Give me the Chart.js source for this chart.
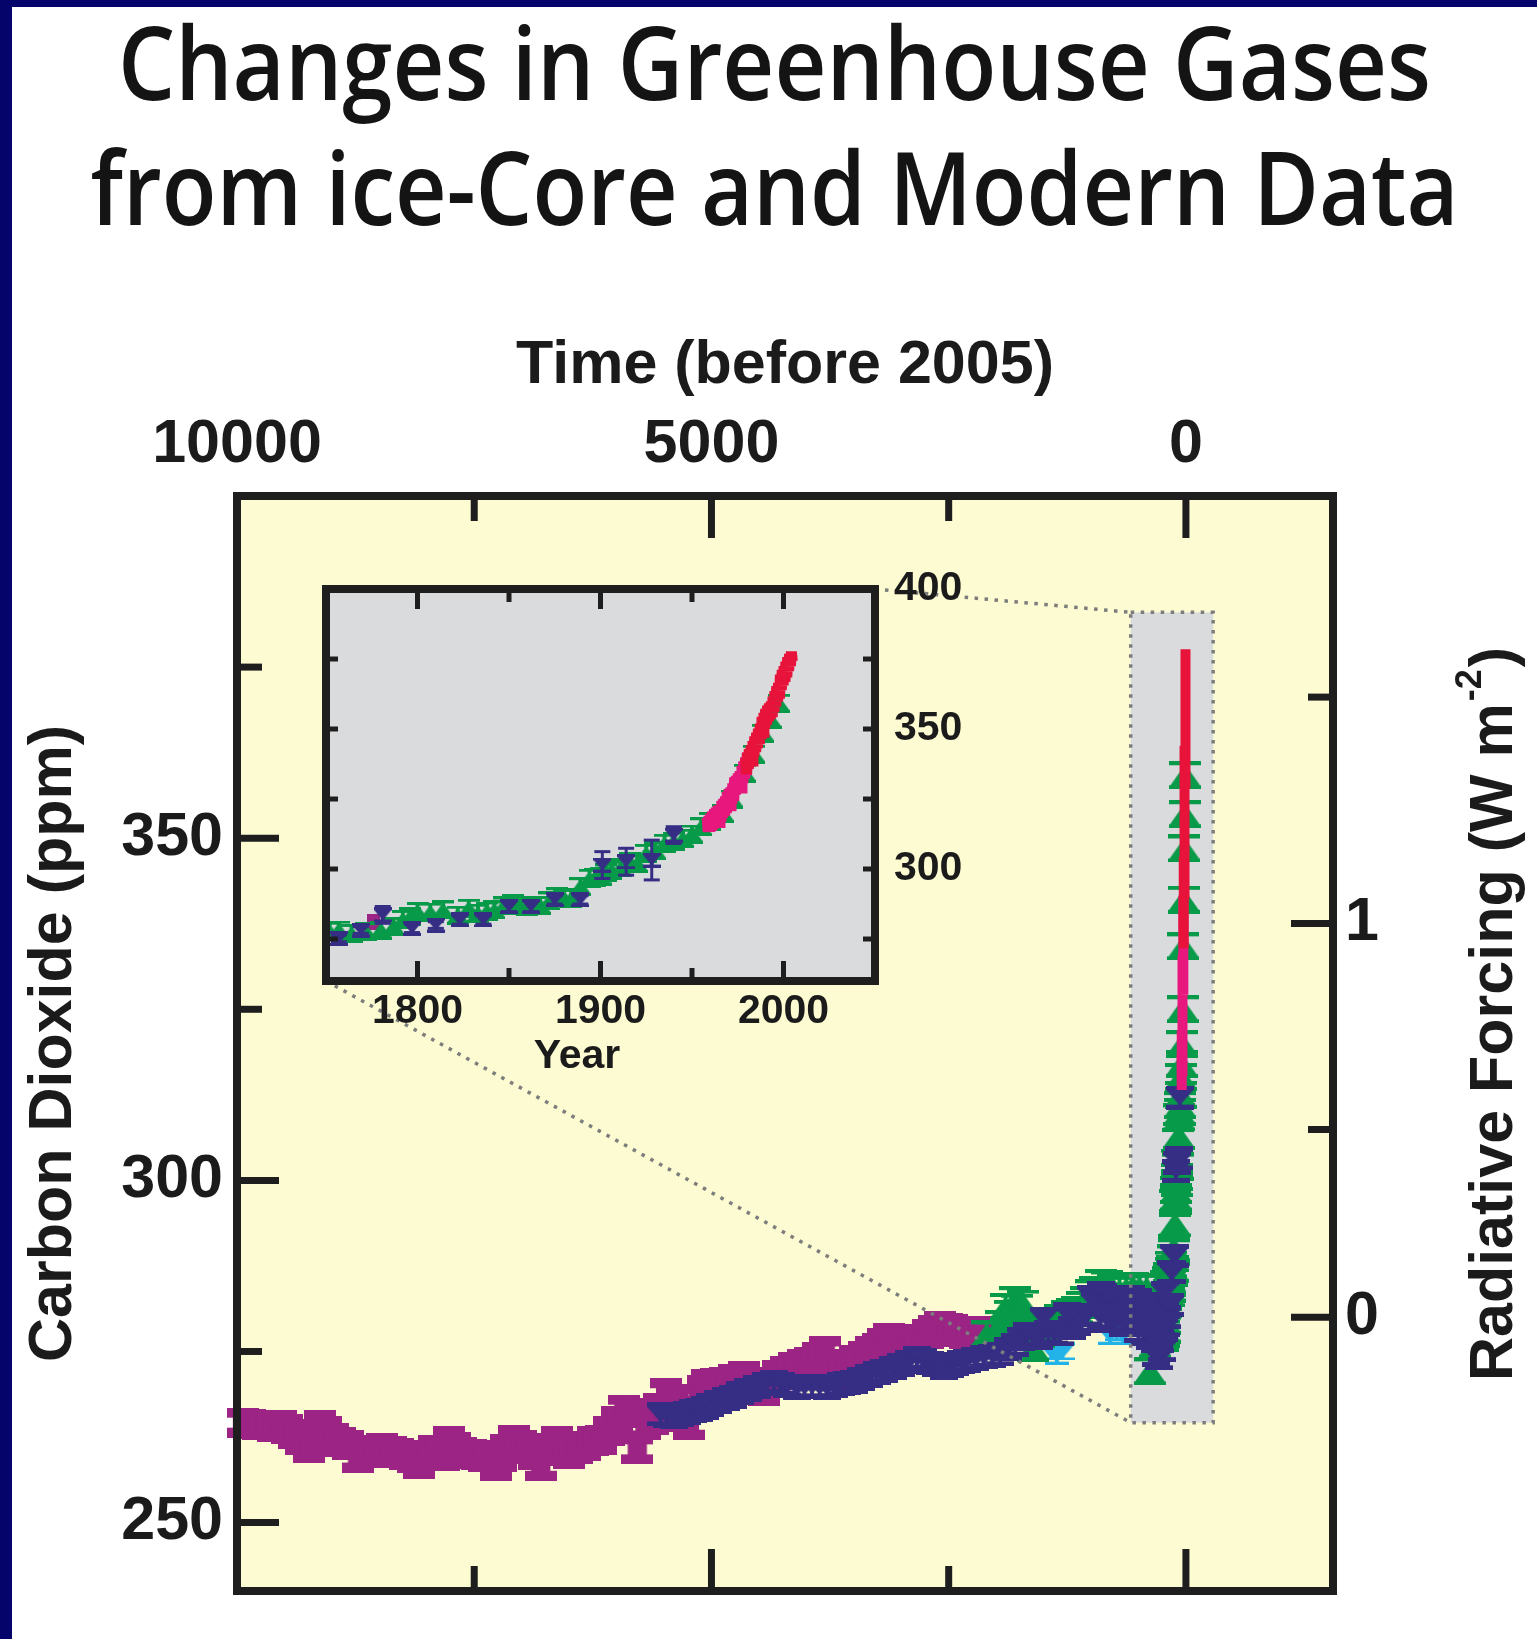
<!DOCTYPE html>
<html><head><meta charset="utf-8">
<script src="https://cdn.jsdelivr.net/npm/chart.js"></script>
<style>
html,body{margin:0;padding:0;background:#fff;}
#page{position:relative;width:1537px;height:1639px;overflow:hidden;background:#fff;}
#frameTop{position:absolute;left:0;top:0;width:1537px;height:7px;background:#04046b;z-index:5}
#frameLeft{position:absolute;left:0;top:0;width:12px;height:1639px;background:#04046b;z-index:5}
.tl{position:absolute;left:-238px;width:2025px;text-align:center;font-family:'Open Sans','Noto Sans',sans-serif;font-weight:600;font-size:102px;line-height:102px;color:#141414;z-index:4;white-space:nowrap}
.tl span{display:inline-block;transform-origin:50% 50%}
#main{position:absolute;left:0;top:0;z-index:1}
#inset{position:absolute;left:296px;top:560px;z-index:2}
</style></head>
<body><div id="page">
<div id="frameTop"></div><div id="frameLeft"></div>
<div class="tl" id="t1" style="top:10px"><span>Changes in Greenhouse Gases</span></div>
<div class="tl" id="t2" style="top:135px"><span>from ice-Core and Modern Data</span></div>
<canvas id="main" width="1537" height="1639"></canvas>
<canvas id="inset" width="720" height="540"></canvas>
</div>
<script>
// ---------------- data ----------------
const X_TICKS = [10000, 7500, 5000, 2500, 0];
const X_LABELS = ['10000', '', '5000', '', '0'];
const Y_TICKS = [250, 275, 300, 325, 350, 375];
const Y_LABELS = ['250', '', '300', '', '350', ''];
const RF_TICKS = [0, 0.5, 1, 1.5];          // W m-2
const RF_LABELS = ['0', '', '1', ''];
const INSET_X_TICKS = [1800, 1850, 1900, 1950, 2000];
const INSET_X_LABELS = ['1800', '', '1900', '', '2000'];
const INSET_Y_TICKS = [275, 300, 325, 350, 375, 400];
const INSET_Y_LABELS = ['', '300', '', '350', '', '400'];

// ice-core records, [years before 2005, ppm]
const MAGENTA_BP = [[9940,264.6],[9860,264.4],[9780,264.2],[9700,264.3],[9620,264.0],[9540,264.2],[9470,263.6],[9400,263.0],[9330,262.0],[9239,260.9],[9123,264.3],[9060,263.4],[8990,262.4],[8910,261.8],[8835,261.4],[8730,259.5],[8640,260.6],[8560,260.2],[8470,260.9],[8379,260.4],[8300,260.2],[8230,259.8],[8150,259.4],[8081,258.5],[8000,259.8],[7920,260.6],[7818,259.7],[7765,261.9],[7700,261.0],[7640,260.3],[7537,260.0],[7470,259.9],[7400,259.6],[7274,258.3],[7220,259.6],[7160,260.8],[7081,262.1],[7010,261.3],[6950,260.9],[6870,259.8],[6800,258.3],[6700,260.5],[6624,261.9],[6560,261.0],[6502,260.0],[6420,260.8],[6330,261.2],[6250,261.9],[6168,262.1],[6081,263.4],[6000,264.8],[5923,266.5],[5853,266.0],[5782,260.7],[5700,264.2],[5620,265.0],[5550,266.8],[5477,268.9],[5420,267.4],[5360,266.2],[5300,265.4],[5239,264.3],[5140,268.0],[5090,269.3],[5046,270.2],[4950,270.4],[4860,270.6],[4760,271.0],[4660,271.4],[4560,270.3],[4449,269.2],[4370,270.6],[4300,271.5],[4210,272.2],[4133,272.8],[4040,273.1],[3960,273.4],[3880,274.2],[3800,275.0],[3747,271.6],[3660,272.6],[3580,273.2],[3490,273.8],[3396,274.3],[3320,275.0],[3250,275.5],[3190,276.3],[3126,277.0],[3060,276.7],[2990,276.5],[2930,276.2],[2870,276.0],[2790,276.8],[2720,277.6],[2650,278.2],[2589,278.7],[2520,278.5],[2460,278.3],[2390,277.9],[2326,277.5],[2256,277.7],[2190,277.9],[2137,278.0]];
const NAVY_BP = [[5537,265.8],[5470,265.6],[5400,265.4],[5330,265.7],[5256,266.0],[5190,266.3],[5130,266.5],[5070,266.8],[5011,267.2],[4930,267.6],[4850,268.0],[4770,268.4],[4695,268.9],[4610,269.3],[4520,269.8],[4430,270.2],[4344,270.6],[4270,270.3],[4200,270.0],[4098,269.7],[4020,269.8],[3940,269.9],[3860,269.8],[3782,269.7],[3710,269.9],[3640,270.2],[3570,270.4],[3502,270.6],[3420,271.0],[3340,271.4],[3260,271.8],[3186,272.1],[3090,272.6],[3000,273.0],[2920,273.5],[2835,274.1],[2770,273.7],[2700,273.3],[2630,273.0],[2554,272.6],[2490,272.9],[2430,273.2],[2370,273.4],[2309,273.6],[2220,273.9],[2130,274.2],[2040,274.4],[1958,274.6],[1880,275.3],[1800,276.0],[1740,276.8],[1677,277.5],[1610,277.2],[1550,277.0],[1500,279.8],[1450,277.8],[1390,277.6],[1326,277.5],[1250,280.5],[1200,278.5],[1150,279.0],[1100,279.5],[1045,280.4],[1000,283.0],[960,282.0],[900,283.5],[900,280.0],[870,283.3],[820,283.0],[820,279.5],[780,283.0],[740,283.0],[740,279.5],[700,282.0],[660,282.5],[660,278.8],[624,282.8],[580,283.0],[580,279.0],[540,281.5],[500,282.5],[500,278.0],[470,280.5],[430,282.0],[430,277.5],[414,280.4],[380,282.0],[380,277.0],[350,279.0],[330,281.0],[330,276.5],[320,274.5],[300,277.5],[290,280.0],[280,274.0],[274,276.5],[260,279.0]];
const GREEN_BP = [[2100,277.5],[2028,277.5],[1950,279.0],[1900,281.5],[1850,280.5],[1800,282.5],[1782,281.4],[1760,279.0],[1720,282.0],[1680,279.5],[1640,278.0],[1607,275.5],[1550,277.5],[1500,278.5],[1450,279.0],[1400,279.5],[1326,279.9],[1250,280.5],[1200,280.8],[1150,281.0],[1100,281.8],[1050,282.5],[1000,283.5],[960,284.0],[900,285.0],[835,284.8],[770,284.3],[700,284.0],[630,284.2],[560,284.5],[490,284.4],[414,284.3],[379,272.1],[330,276.0],[300,281.0]];
const CYAN_BP = [[1420,275.0],[1361,274.4],[1300,275.0],[800,277.3],[730,277.8],[660,277.3]];

// inset records, [calendar year, ppm]
const INSET_NAVY = [[1757,275.2],[1769,278.2],[1781,283.6],[1797,278.8],[1810,280.0],[1823,281.8],[1836,281.8],[1850,286.6],[1862,286.6],[1875,289.0],[1889,289.0],[1901,301.4],[1914,302.6],[1928,303.2],[1940,312.1]];
const INSET_NAVY_ERR = [1.2,1.2,3.0,1.5,1.2,1.5,1.5,1.8,1.8,1.5,1.5,4.8,4.8,7.1,3.0];
const INSET_GREEN = [[1752,277.8],[1757,278.2],[1764,277.0],[1772,277.6],[1780,278.2],[1787,279.5],[1792,282.0],[1796,283.0],[1800,284.8],[1807,284.6],[1814,285.4],[1822,283.5],[1828,286.0],[1833,284.2],[1838,285.0],[1842,285.4],[1847,286.8],[1852,287.7],[1856,287.0],[1860,286.5],[1864,287.0],[1867,287.1],[1872,288.6],[1876,290.1],[1880,289.8],[1884,289.5],[1889,293.7],[1894,296.7],[1897,297.0],[1900,297.5],[1903,298.6],[1906,299.6],[1911,300.5],[1916,302.6],[1920,302.0],[1925,305.6],[1930,306.5],[1935,309.2],[1940,310.0],[1945,311.0],[1950,312.5],[1955,315.1],[1960,317.0],[1967,319.9],[1972,325.0],[1979,334.2],[1984,341.0],[1989,348.5],[1993,353.5],[1997.5,359.2]];
const INSET_MAGENTA = [[1776,281.2]];

// modern atmospheric records (seasonal high / low), [calendar year, ppm]
const PINK_SERIES = [[1958.3,318.3],[1958.8,313.3],[1959.3,318.9],[1959.8,313.2],[1960.3,319.8],[1960.8,313.8],[1961.3,320.5],[1961.8,314.6],[1962.3,321.3],[1962.8,315.5],[1963.3,321.9],[1963.8,316.0],[1964.3,322.5],[1964.8,316.6],[1965.3,322.9],[1965.8,317.0],[1966.3,324.3],[1966.8,318.3],[1967.3,325.0],[1967.8,319.1],[1968.3,325.9],[1968.8,320.0],[1969.3,327.5],[1969.8,321.5],[1970.3,328.6],[1970.8,322.6],[1971.3,329.2],[1971.8,323.3],[1972.3,330.5],[1972.8,324.4],[1973.3,332.7],[1973.8,326.6],[1974.3,333.2],[1974.8,327.1],[1975.3,334.1],[1975.8,328.0],[1976.3,334.9],[1976.8,328.9],[1977.3,336.8],[1977.8,330.7],[1978.3,338.4],[1978.8,332.3],[1979.3,339.8],[1979.8,333.6],[1980.3,341.6],[1980.8,335.6]];
const RED_SERIES = [[1979.3,339.5],[1979.8,333.9],[1980.3,341.3],[1980.8,335.9],[1981.3,342.8],[1981.8,337.3],[1982.3,344.1],[1982.8,338.6],[1983.3,345.7],[1983.8,340.2],[1984.3,347.3],[1984.8,341.8],[1985.3,348.7],[1985.8,343.2],[1986.3,350.1],[1986.8,344.6],[1987.3,351.9],[1987.8,346.4],[1988.3,354.3],[1988.8,348.8],[1989.3,355.8],[1989.8,350.3],[1990.3,357.1],[1990.8,351.6],[1991.3,358.3],[1991.8,352.8],[1992.3,359.1],[1992.8,353.6],[1993.3,359.8],[1993.8,354.3],[1994.3,361.5],[1994.8,356.0],[1995.3,363.5],[1995.8,358.0],[1996.3,365.3],[1996.8,359.8],[1997.3,366.4],[1997.8,360.9],[1998.3,369.4],[1998.8,363.9],[1999.3,371.1],[1999.8,365.6],[2000.3,372.4],[2000.8,366.9],[2001.3,374.0],[2001.8,368.5],[2002.3,375.6],[2002.8,370.7],[2003.3,376.8],[2003.8,372.5],[2004.3,377.6],[2004.8,374.2]];

// highlighted zoom region on the main panel
const ZOOM_BOX_X = [582, -287];     // years before 2005
const ZOOM_BOX_Y = [264.6, 383];    // ppm

// ---------------- styling ----------------
const TEXT = '#1b1b1b', FRAME = '#1e1e1e';
const YELLOW = '#fdfbd1', GRAY = '#d9dbdd', DOT = '#7d7d7d';
const C_MAG = '#9b2484', C_NAVY = '#352e84', C_GREEN = '#079a48', C_CYAN = '#23b3e8', C_RED = '#e8133a', C_PINK = '#e8177e';
const BOLD = s => ({family:"'Liberation Sans', Arial, Helvetica, sans-serif", size:s, weight:'bold', lineHeight:1.2});

function fitTitle(){
  [['t1',1313],['t2',1368]].forEach(([id,target])=>{
    const s=document.querySelector('#'+id+' span');
    s.style.transform='none';
    const w=s.getBoundingClientRect().width;
    s.style.transform='scaleX('+(target/w)+')';
  });
}
fitTitle();
if (document.fonts && document.fonts.ready) document.fonts.ready.then(fitTitle);

function marker(w, h, color, kind, barFrac){
  const c=document.createElement('canvas'); c.width=w; c.height=h;
  const g=c.getContext('2d'); g.fillStyle=color; const cx=w/2;
  if(kind==='I'){
    const cap=Math.round(h*0.32);
    g.fillRect(0,0,w,cap); g.fillRect(cx-w*0.3,0,w*0.6,h); g.fillRect(0,h-cap,w,cap);
  } else if(kind==='sq'){
    g.fillRect(0,0,w,h);
  } else {
    const bar=Math.max(2,Math.round(h*(barFrac||0.16)));
    g.fillRect(0,0,w,bar); g.fillRect(0,h-bar,w,bar); g.fillRect(cx-2,0,4,h);
    g.beginPath();
    if(kind==='down'){ g.moveTo(w*0.04,bar); g.lineTo(w*0.96,bar); g.lineTo(cx,h-bar+1); }
    else { g.moveTo(cx,bar-1); g.lineTo(w*0.96,h-bar); g.lineTo(w*0.04,h-bar); }
    g.closePath(); g.fill();
  }
  return c;
}
const M_MAG = marker(32,30,C_MAG,'I'), M_NAVY = marker(28,24,C_NAVY,'down',0.2), M_GREEN = marker(32,28,C_GREEN,'up'), M_CYAN = marker(24,18,C_CYAN,'down');
const S_NAVY = marker(18,15,C_NAVY,'down',0.18), S_GREEN = marker(22,19,C_GREEN,'up'), S_MAG = marker(13,16,C_MAG,'sq');

const rfToPpm = f => 280*Math.exp(f/5.35);   // CO2 forcing relation used for the right axis
const toBP = p => ({x:2005-p[0], y:p[1]});
const toXY = p => ({x:p[0], y:p[1]});

function line(ctx,x1,y1,x2,y2){ ctx.beginPath(); ctx.moveTo(x1,y1); ctx.lineTo(x2,y2); ctx.stroke(); }

// ---------------- inset chart ----------------
const insetDeco = {
  id:'insetDeco',
  beforeDraw(chart){ const a=chart.chartArea,ctx=chart.ctx; ctx.save(); ctx.fillStyle=GRAY; ctx.fillRect(a.left,a.top,a.width,a.height); ctx.restore(); },
  afterDatasetsDraw(chart){
    const ctx=chart.ctx, sx=chart.scales.x, sy=chart.scales.y;
    ctx.save(); ctx.strokeStyle=C_NAVY; ctx.lineWidth=3;
    INSET_NAVY.forEach((p,i)=>{
      const x=sx.getPixelForValue(p[0]), y1=sy.getPixelForValue(p[1]-INSET_NAVY_ERR[i]), y2=sy.getPixelForValue(p[1]+INSET_NAVY_ERR[i]);
      line(ctx,x,y1,x,y2); line(ctx,x-8,y1,x+8,y1); line(ctx,x-8,y2,x+8,y2);
    });
    ctx.restore();
  },
  afterDraw(chart){
    const a=chart.chartArea,ctx=chart.ctx, sx=chart.scales.x, sy=chart.scales.y;
    ctx.save(); ctx.strokeStyle=FRAME; ctx.lineWidth=5;
    INSET_X_TICKS.forEach((v,i)=>{ const px=sx.getPixelForValue(v), L=INSET_X_LABELS[i]?20:13; line(ctx,px,a.top,px,a.top+L); line(ctx,px,a.bottom,px,a.bottom-L); });
    INSET_Y_TICKS.forEach(v=>{ if(v>=400) return; const py=sy.getPixelForValue(v); line(ctx,a.left,py,a.left+12,py); line(ctx,a.right,py,a.right-12,py); });
    ctx.lineWidth=8; ctx.strokeRect(a.left,a.top,a.width,a.height);
    // x-axis title, placed as in the original figure
    ctx.fillStyle=TEXT; ctx.font="bold 41px 'Liberation Sans', Arial, sans-serif";
    ctx.textAlign='center'; ctx.textBaseline='middle';
    ctx.fillText('Year', 281, 497);
    ctx.restore();
  }
};
const inset = new Chart(document.getElementById('inset'), {
  type:'scatter',
  data:{datasets:[
    {data:RED_SERIES.map(toXY), showLine:true, pointRadius:0, borderColor:C_RED, borderWidth:11, order:0},
    {data:PINK_SERIES.map(toXY), showLine:true, pointRadius:0, borderColor:C_PINK, borderWidth:11, order:1},
    {data:INSET_NAVY.map(toXY), pointStyle:S_NAVY, pointRadius:9, order:2},
    {data:INSET_GREEN.map(toXY), pointStyle:S_GREEN, pointRadius:9, order:3},
    {data:INSET_MAGENTA.map(toXY), pointStyle:S_MAG, pointRadius:8, order:4}
  ]},
  options:{
    responsive:false, animation:false, devicePixelRatio:1,
    layout:{padding:{left:30,top:29,right:0,bottom:0}},
    plugins:{legend:{display:false}, tooltip:{enabled:false}},
    scales:{
      x:{type:'linear', position:'bottom', min:1750, max:2050,
        grid:{display:false, drawTicks:false}, border:{display:false},
        afterBuildTicks:s=>{ s.ticks=INSET_X_TICKS.map(v=>({value:v})); },
        afterFit:s=>{ s.height=119; s.paddingLeft=0; s.paddingRight=0; },
        ticks:{callback:(v,i)=>INSET_X_LABELS[i], font:BOLD(41), color:TEXT, padding:6, autoSkip:false, maxRotation:0},
        title:{display:false}
      },
      y:{type:'linear', position:'right', min:260, max:400,
        grid:{display:false, drawTicks:false}, border:{display:false},
        afterBuildTicks:s=>{ s.ticks=INSET_Y_TICKS.map(v=>({value:v})); },
        afterFit:s=>{ s.width=141; s.paddingTop=0; s.paddingBottom=0; },
        ticks:{callback:(v,i)=>INSET_Y_LABELS[i], font:BOLD(41), color:TEXT, padding:19, autoSkip:false}
      }
    }
  },
  plugins:[insetDeco]
});

// ---------------- main chart ----------------
function drawRightTitle(ctx){
  ctx.save();
  ctx.translate(1495,1014); ctx.rotate(-Math.PI/2);
  ctx.fillStyle=TEXT; ctx.textBaseline='middle'; ctx.textAlign='left';
  const f1="bold 61px 'Liberation Sans', Arial, sans-serif", f2="bold 36px 'Liberation Sans', Arial, sans-serif";
  const a='Radiative Forcing (W m', b='-2', c=')';
  ctx.font=f1; const wa=ctx.measureText(a).width, wc=ctx.measureText(c).width;
  ctx.font=f2; const wb=ctx.measureText(b).width;
  let x=-(wa+wb+wc+4)/2;
  ctx.font=f1; ctx.fillText(a,x,0); x+=wa+2;
  ctx.font=f2; ctx.fillText(b,x,-24); x+=wb+2;
  ctx.font=f1; ctx.fillText(c,x,0);
  ctx.restore();
}
const mainDeco = {
  id:'mainDeco',
  beforeDraw(chart){ const a=chart.chartArea,ctx=chart.ctx; ctx.save(); ctx.fillStyle=YELLOW; ctx.fillRect(a.left,a.top,a.width,a.height); ctx.restore(); },
  beforeDatasetsDraw(chart){
    const ctx=chart.ctx, sx=chart.scales.x, sy=chart.scales.y;
    const x1=sx.getPixelForValue(ZOOM_BOX_X[0]), x2=sx.getPixelForValue(ZOOM_BOX_X[1]);
    const y1=sy.getPixelForValue(ZOOM_BOX_Y[1]), y2=sy.getPixelForValue(ZOOM_BOX_Y[0]);
    ctx.save(); ctx.fillStyle=GRAY; ctx.fillRect(x1,y1,x2-x1,y2-y1); ctx.restore();
  },
  afterDatasetsDraw(chart){
    const ctx=chart.ctx, sx=chart.scales.x, sy=chart.scales.y;
    const x1=sx.getPixelForValue(ZOOM_BOX_X[0]), x2=sx.getPixelForValue(ZOOM_BOX_X[1]);
    const y1=sy.getPixelForValue(ZOOM_BOX_Y[1]), y2=sy.getPixelForValue(ZOOM_BOX_Y[0]);
    const ic=inset.canvas, ia=inset.chartArea;
    const L=ic.offsetLeft+ia.left, T=ic.offsetTop+ia.top, R=ic.offsetLeft+ia.right, B=ic.offsetTop+ia.bottom;
    ctx.save(); ctx.strokeStyle=DOT; ctx.lineWidth=3.5; ctx.setLineDash([3.5,6.5]);
    ctx.strokeRect(x1,y1,x2-x1,y2-y1);
    line(ctx,R,T,x1,y1);
    line(ctx,L,B,x1,y2);
    ctx.restore();
  },
  afterDraw(chart){
    const a=chart.chartArea,ctx=chart.ctx, sx=chart.scales.x, sy=chart.scales.y, sy2=chart.scales.y2;
    ctx.save(); ctx.strokeStyle=FRAME; ctx.lineWidth=7;
    X_TICKS.forEach((v,i)=>{ const px=sx.getPixelForValue(v), L=X_LABELS[i]?42:25; line(ctx,px,a.top,px,a.top+L); line(ctx,px,a.bottom,px,a.bottom-L); });
    Y_TICKS.forEach((v,i)=>{ const py=sy.getPixelForValue(v), L=Y_LABELS[i]?42:25; line(ctx,a.left,py,a.left+L,py); });
    RF_TICKS.forEach((f,i)=>{ const py=sy2.getPixelForValue(rfToPpm(f)), L=RF_LABELS[i]?42:25; line(ctx,a.right,py,a.right-L,py); });
    ctx.lineWidth=8; ctx.strokeRect(a.left,a.top,a.width,a.height);
    ctx.restore();
    drawRightTitle(ctx);
  }
};

const mainChart = new Chart(document.getElementById('main'), {
  type:'scatter',
  data:{datasets:[
    {data:RED_SERIES.map(toBP), showLine:true, pointRadius:0, borderColor:C_RED, borderWidth:10, order:0},
    {data:PINK_SERIES.map(toBP), showLine:true, pointRadius:0, borderColor:C_PINK, borderWidth:10, order:1},
    {data:NAVY_BP.map(p=>({x:p[0],y:p[1]})).concat(INSET_NAVY.map(toBP)), pointStyle:M_NAVY, pointRadius:10, clip:false, order:2},
    {data:GREEN_BP.map(p=>({x:p[0],y:p[1]})).concat(INSET_GREEN.map(toBP)), pointStyle:M_GREEN, pointRadius:10, clip:false, order:3},
    {data:CYAN_BP.map(p=>({x:p[0],y:p[1]})), pointStyle:M_CYAN, pointRadius:10, clip:false, order:4},
    {data:MAGENTA_BP.map(p=>({x:p[0],y:p[1]})), pointStyle:M_MAG, pointRadius:10, clip:false, order:5}
  ]},
  options:{
    responsive:false, animation:false, devicePixelRatio:1,
    layout:{padding:{left:0,top:0,right:0,bottom:48}},
    plugins:{legend:{display:false}, tooltip:{enabled:false}},
    scales:{
      x:{type:'linear', position:'top', reverse:true, min:-1550, max:10000,
        grid:{display:false, drawTicks:false}, border:{display:false},
        afterBuildTicks:s=>{ s.ticks=X_TICKS.map(v=>({value:v})); },
        afterFit:s=>{ s.height=496; s.paddingLeft=0; s.paddingRight=0; },
        ticks:{callback:(v,i)=>X_LABELS[i], font:BOLD(61), color:TEXT, padding:14, autoSkip:false, maxRotation:0},
        title:{display:true, text:'Time (before 2005)', font:BOLD(61), color:TEXT, padding:{top:330,bottom:0}}
      },
      y:{type:'linear', position:'left', min:240, max:400,
        grid:{display:false, drawTicks:false}, border:{display:false},
        afterBuildTicks:s=>{ s.ticks=Y_TICKS.map(v=>({value:v})); },
        afterFit:s=>{ s.width=237; s.paddingTop=0; s.paddingBottom=0; },
        ticks:{callback:(v,i)=>Y_LABELS[i], font:BOLD(61), color:TEXT, padding:14, autoSkip:false},
        title:{display:true, text:'Carbon Dioxide (ppm)', font:BOLD(61), color:TEXT, padding:{top:18,bottom:0}}
      },
      y2:{type:'linear', position:'right', min:240, max:400,
        grid:{display:false, drawTicks:false}, border:{display:false},
        afterBuildTicks:s=>{ s.ticks=RF_TICKS.map(f=>({value:rfToPpm(f)})); },
        afterFit:s=>{ s.width=204; s.paddingTop=0; s.paddingBottom=0; },
        ticks:{callback:(v,i)=>RF_LABELS[i], font:BOLD(61), color:TEXT, padding:12, autoSkip:false}
      }
    }
  },
  plugins:[mainDeco]
});
</script>
</body></html>
